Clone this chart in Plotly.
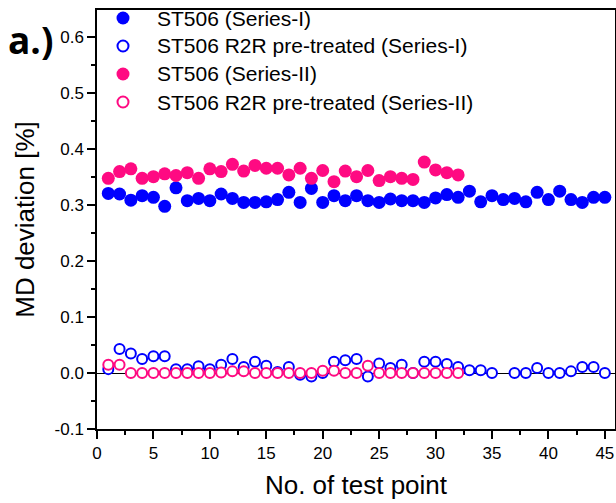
import plotly.graph_objects as go

x_s1 = list(range(1, 46))
st506_s1 = [0.321, 0.320, 0.309, 0.317, 0.314, 0.298, 0.331, 0.308, 0.312, 0.308,
            0.320, 0.312, 0.305, 0.305, 0.306, 0.310, 0.323, 0.305, 0.330, 0.305,
            0.317, 0.308, 0.317, 0.308, 0.305, 0.311, 0.308, 0.308, 0.305, 0.313,
            0.319, 0.314, 0.325, 0.306, 0.317, 0.310, 0.312, 0.306, 0.323, 0.310,
            0.325, 0.310, 0.305, 0.314, 0.314]
r2r_s1 = [0.007, 0.043, 0.035, 0.025, 0.030, 0.030, 0.007, 0.007, 0.012, 0.007,
          0.015, 0.025, 0.011, 0.020, 0.013, 0.002, 0.011, -0.003, -0.006, 0.000,
          0.020, 0.023, 0.025, -0.006, 0.017, 0.009, 0.015, 0.000, 0.020, 0.020,
          0.016, 0.011, 0.005, 0.005, 0.000, None, 0.000, 0.000, 0.009, 0.000,
          0.000, 0.003, 0.011, 0.011, 0.000]

x_s2 = list(range(1, 33))
st506_s2 = [0.348, 0.360, 0.365, 0.348, 0.351, 0.356, 0.353, 0.358, 0.348, 0.365,
            0.360, 0.373, 0.361, 0.371, 0.366, 0.366, 0.354, 0.366, 0.348, 0.362,
            0.342, 0.361, 0.351, 0.362, 0.344, 0.351, 0.348, 0.346, 0.377, 0.363,
            0.358, 0.354]
r2r_s2 = [0.015, 0.015, 0.000, 0.000, 0.000, 0.000, 0.000, 0.000, 0.000, 0.000,
          0.001, 0.003, 0.003, 0.000, 0.000, 0.000, 0.000, 0.000, 0.000, 0.004,
          0.004, 0.000, 0.000, 0.013, 0.000, 0.000, 0.000, 0.000, 0.000, 0.000,
          0.000, 0.000]

names = ["ST506 (Series-I)", "ST506 R2R pre-treated (Series-I)",
         "ST506 (Series-II)", "ST506 R2R pre-treated (Series-II)"]

BLUE = "#0000ff"
PINK = "#ff0a82"
FONT = "Liberation Sans"

styles = [(BLUE, True), (BLUE, False), (PINK, True), (PINK, False)]
series = [(x_s1, st506_s1), (x_s1, r2r_s1), (x_s2, st506_s2), (x_s2, r2r_s2)]

fig = go.Figure()
for (xs, ys), (col, filled), nm in zip(series, styles, names):
    if filled:
        mk = dict(symbol="circle", size=13, color=col, line=dict(width=0))
    else:
        mk = dict(symbol="circle", size=10, color="white", line=dict(width=2, color=col))
    fig.add_trace(go.Scatter(x=xs, y=ys, mode="markers", name=nm, marker=mk, showlegend=False))

# manual legend (layout elements in paper coordinates)
legend_rows_y = [0.9809, 0.9141, 0.8473, 0.7804]
shapes = []
annotations = []
for (col, filled), nm, ly in zip(styles, names, legend_rows_y):
    r = 6.5 if filled else 5.5
    shapes.append(dict(type="circle", xref="paper", yref="paper",
                       xsizemode="pixel", ysizemode="pixel",
                       xanchor=0.0502, yanchor=ly, x0=-r, x1=r, y0=-r, y1=r,
                       fillcolor=col if filled else "white",
                       line=dict(color=col, width=0 if filled else 2)))
    annotations.append(dict(text=nm, xref="paper", yref="paper", x=0.112, y=ly,
                            xanchor="left", yanchor="middle", showarrow=False,
                            font=dict(family=FONT, size=21, color="black")))

annotations.append(dict(text="<b>a.)</b>", xref="paper", yref="paper", x=-0.176, y=0.929,
                        xanchor="left", yanchor="middle", showarrow=False,
                        font=dict(family="Open Sans, sans-serif", size=37, color="black")))

axis_font = dict(family=FONT, size=17, color="black")

fig.update_layout(
    width=616, height=503,
    margin=dict(l=97, r=1, t=10, b=74),
    paper_bgcolor="white", plot_bgcolor="white",
    showlegend=False,
    xaxis=dict(range=[0, 45.9], tickmode="array", tickvals=[0, 5, 10, 15, 20, 25, 30, 35, 40, 45],
               ticks="outside", ticklen=8, tickwidth=1.5, tickcolor="black", automargin=False,
               minor=dict(ticks="outside", ticklen=4, tickwidth=1.5, tickcolor="black", dtick=2.5, showgrid=False),
               showline=True, linecolor="black", linewidth=1.5, mirror=True,
               showgrid=False, zeroline=False, tickfont=axis_font,
               title=dict(text="No. of test point", font=dict(family=FONT, size=26, color="black"), standoff=14)),
    yaxis=dict(range=[-0.1, 0.6488], tickmode="array", tickvals=[-0.1, 0.0, 0.1, 0.2, 0.3, 0.4, 0.5, 0.6],
               ticktext=["-0.1", "0.0", "0.1", "0.2", "0.3", "0.4", "0.5", "0.6"],
               ticks="outside", ticklen=8, tickwidth=1.5, tickcolor="black", automargin=False,
               minor=dict(ticks="outside", ticklen=4, tickwidth=1.5, tickcolor="black", dtick=0.05, showgrid=False),
               showline=True, linecolor="black", linewidth=1.5, mirror=True,
               showgrid=False, zeroline=True, zerolinecolor="black", zerolinewidth=1,
               tickfont=axis_font,
               title=dict(text="MD deviation [%]", font=dict(family=FONT, size=26, color="black"), standoff=12)),
    shapes=shapes,
    annotations=annotations,
)

fig.write_html("out.html", config={"displayModeBar": False},
               post_script="document.body.style.margin='0px';document.body.style.overflow='hidden';")
